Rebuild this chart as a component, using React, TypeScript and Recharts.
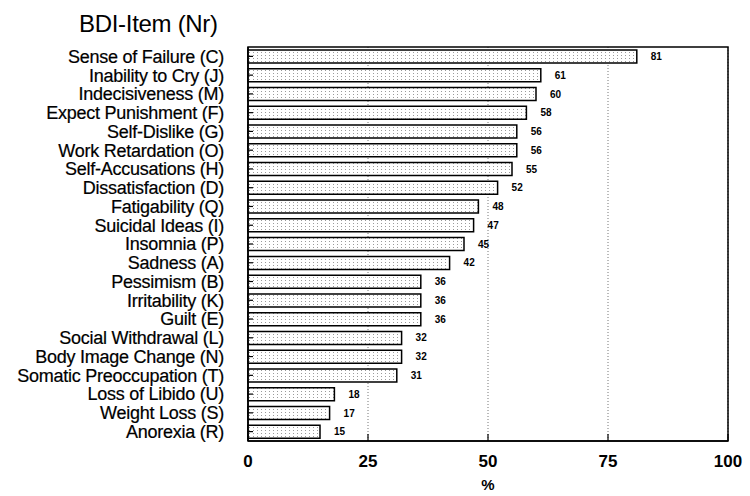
// BDI item frequencies, horizontal bar chart

import { BarChart, Bar, XAxis, YAxis, CartesianGrid, LabelList, ReferenceArea } from "recharts";

const items = [
  "Sense of Failure (C)",
  "Inability to Cry (J)",
  "Indecisiveness (M)",
  "Expect Punishment (F)",
  "Self-Dislike (G)",
  "Work Retardation (O)",
  "Self-Accusations (H)",
  "Dissatisfaction (D)",
  "Fatigability (Q)",
  "Suicidal Ideas (I)",
  "Insomnia (P)",
  "Sadness (A)",
  "Pessimism (B)",
  "Irritability (K)",
  "Guilt (E)",
  "Social Withdrawal (L)",
  "Body Image Change (N)",
  "Somatic Preoccupation (T)",
  "Loss of Libido (U)",
  "Weight Loss (S)",
  "Anorexia (R)",
];

const percents = [81, 61, 60, 58, 56, 56, 55, 52, 48, 47, 45, 42, 36, 36, 36, 32, 32, 31, 18, 17, 15];

const xTicks = [0, 25, 50, 75, 100];

const data = items.map((name, i) => ({ name, value: percents[i] }));

const font = "'Liberation Sans', Arial, sans-serif";

export default function App() {
  return (
    <div style={{ position: "absolute", left: 0, top: 0, width: 750, height: 496, background: "#fff", fontFamily: font }}>
      <div
        style={{
          position: "absolute",
          left: 79,
          top: 10,
          fontSize: 24,
          letterSpacing: -0.3,
          color: "#000",
        }}
      >
        BDI-Item (Nr)
      </div>
      <BarChart
        width={750}
        height={496}
        data={data}
        layout="vertical"
        margin={{ top: 47, right: 22, bottom: 0, left: 0 }}
        barSize={13}
      >
        <defs>
          <pattern id="dots" width="4" height="3" patternUnits="userSpaceOnUse">
            <rect width="4" height="3" fill="#fff" />
            <rect x="1" y="1" width="1" height="1" fill="#9a9a9a" />
          </pattern>
        </defs>
        <CartesianGrid horizontal={false} strokeDasharray="1 2" stroke="#777" />
        <XAxis
          type="number"
          domain={[0, 100]}
          ticks={xTicks}
          height={55}
          tickSize={-7}
          tickMargin={21}
          tickLine={{ stroke: "#000", strokeWidth: 1.2 }}
          axisLine={{ stroke: "#000", strokeWidth: 1.5 }}
          tick={{ fill: "#000", fontSize: 17, fontWeight: 700, fontFamily: font }}
          label={{ value: "%", position: "insideBottom", offset: 6, fill: "#000", fontSize: 15, fontWeight: 700, fontFamily: font }}
        />
        <YAxis
          type="category"
          dataKey="name"
          width={248}
          tickSize={-5}
          tickMargin={29}
          tickLine={{ stroke: "#000", strokeWidth: 1.2 }}
          interval={0}
          axisLine={{ stroke: "#000", strokeWidth: 1.5 }}
          tick={{ fill: "#000", stroke: "#000", strokeWidth: 0.2, fontSize: 18, letterSpacing: -0.25, fontFamily: font }}
        />
        <ReferenceArea x1={0} x2={100} fill="none" stroke="#000" strokeWidth={1.5} ifOverflow="visible" />
        <Bar dataKey="value" fill="url(#dots)" stroke="#000" strokeWidth={1.5} isAnimationActive={false}>
          <LabelList
            dataKey="value"
            position="right"
            offset={14}
            style={{ fill: "#000", fontSize: 10, fontWeight: 700, fontFamily: font }}
          />
        </Bar>
      </BarChart>
    </div>
  );
}
